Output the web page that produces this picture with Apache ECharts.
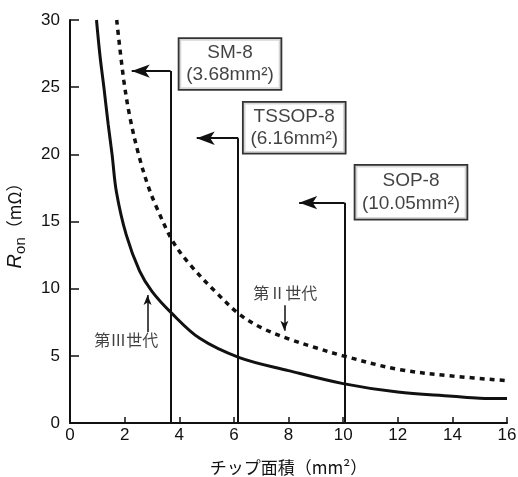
<!DOCTYPE html>
<html>
<head>
<meta charset="utf-8">
<script src="https://cdn.jsdelivr.net/npm/echarts@6/dist/echarts.min.js"></script>
<style>
html, body { margin: 0; padding: 0; background: #fff; }
#chart { width: 518px; height: 477px; }
</style>
</head>
<body>
<div id="chart"></div>
<script>
// 第Ⅲ世代 (実線)
var gen3Area = [0.97, 1.1, 1.24, 1.4, 1.54, 1.7, 2.06, 2.55, 3.0, 3.71, 4.75, 6.2, 8.0, 10.0, 12.0, 14.0, 15.0, 16.0];
var gen3Ron = [30, 27.3, 25, 22.2, 20, 17.2, 14.0, 11.3, 9.8, 8.2, 6.3, 4.87, 3.9, 2.93, 2.3, 2.0, 1.85, 1.82];

// 第Ⅱ世代 (点線)
var gen2Area = [1.71, 1.97, 2.2, 2.51, 2.85, 3.16, 3.77, 4.39, 5.36, 6.2, 7.0, 8.0, 9.0, 10.0, 12.0, 14.0, 16.0];
var gen2Ron = [30, 25.5, 22.7, 20, 17.7, 16.1, 13.5, 11.8, 9.7, 8.1, 7.1, 6.27, 5.6, 5.0, 4.0, 3.5, 3.15];

// パッケージ
var pkgNames = ['SM-8', 'TSSOP-8', 'SOP-8'];
var pkgArea = [3.68, 6.16, 10.05];
var pkgAreaText = ['(3.68mm²)', '(6.16mm²)', '(10.05mm²)'];
var pkgTop = [26.2, 21.2, 16.4];
var pkgArrowTo = [2.26, 4.64, 8.39];

var xTicks = [0, 2, 4, 6, 8, 10, 12, 14, 16];
var yTicks = [0, 5, 10, 15, 20, 25, 30];

var chart = echarts.init(document.getElementById('chart'));

function pairs(xs, ys) {
  return xs.map(function (x, i) { return [x, ys[i]]; });
}

var ink = '#111';
var numFont = 'Liberation Sans, Arial, sans-serif';
var jpFont = 'Noto Sans CJK JP, sans-serif';

// 矢印付きの線 (パッケージ)
var pkgLines = [];
pkgArea.forEach(function (a, i) {
  pkgLines.push([{ coord: [a, 0], symbol: 'none' }, { coord: [a, pkgTop[i]], symbol: 'none' }]);
  pkgLines.push([{ coord: [a, pkgTop[i]], symbol: 'none' }, { coord: [pkgArrowTo[i], pkgTop[i]], symbol: 'arrow', symbolSize: [10, 18] }]);
});

// ラベル枠の位置 (角からのずれ)
var boxOffset = [[59.5, -7], [56, -10.5], [66.5, -10.5]];
var boxWidth = [101, 101, 111];

var option = {
  animation: false,
  backgroundColor: '#fff',
  grid: { left: 70, right: 11, top: 20, bottom: 54, outerBoundsMode: 'none', containLabel: false },
  xAxis: {
    type: 'value',
    min: xTicks[0],
    max: xTicks[xTicks.length - 1],
    interval: xTicks[1] - xTicks[0],
    name: 'チップ面積（mm²）',
    nameLocation: 'middle',
    nameGap: 36,
    nameTextStyle: { fontFamily: jpFont, fontSize: 17, color: ink },
    axisLine: { lineStyle: { color: ink, width: 2 } },
    axisTick: { inside: true, length: 6, lineStyle: { color: ink, width: 1.5 } },
    axisLabel: { margin: 4, fontFamily: numFont, fontSize: 17, color: ink },
    splitLine: { show: false }
  },
  yAxis: {
    type: 'value',
    min: yTicks[0],
    max: yTicks[yTicks.length - 1],
    interval: yTicks[1] - yTicks[0],
    name: '{r|R}{s|on}{t|（mΩ）}',
    nameLocation: 'middle',
    nameRotate: 90,
    nameGap: 42,
    nameTextStyle: {
      color: ink,
      rich: {
        r: { fontFamily: numFont, fontStyle: 'italic', fontSize: 20, lineHeight: 26, color: ink },
        s: { fontFamily: numFont, fontSize: 15, lineHeight: 17, verticalAlign: 'bottom', color: ink },
        t: { fontFamily: jpFont, fontSize: 17, lineHeight: 26, color: ink }
      }
    },
    axisLine: { lineStyle: { color: ink, width: 2 } },
    axisTick: { inside: true, length: 9, lineStyle: { color: ink, width: 1.5 } },
    axisLabel: { margin: 10, fontFamily: numFont, fontSize: 17, color: ink },
    splitLine: { show: false }
  },
  series: [
    {
      name: '第Ⅲ世代',
      type: 'line',
      data: pairs(gen3Area, gen3Ron),
      smooth: 0.35,
      symbol: 'none',
      lineStyle: { color: ink, width: 3 }
    },
    {
      name: '第Ⅱ世代',
      type: 'line',
      data: pairs(gen2Area, gen2Ron),
      smooth: 0.35,
      symbol: 'none',
      lineStyle: { color: ink, width: 3.5, type: [5, 5] }
    },
    {
      name: 'パッケージ',
      type: 'scatter',
      symbolSize: 0,
      silent: true,
      z: 5,
      data: pkgArea.map(function (a, i) {
        return {
          value: [a, pkgTop[i]],
          label: {
            offset: boxOffset[i],
            width: boxWidth[i],
            lineHeight: i === 2 ? 23 : 22,
            padding: i === 2 ? [3.5, 0] : [3, 0]
          }
        };
      }),
      label: {
        show: true,
        position: 'inside',
        formatter: function (p) {
          return pkgNames[p.dataIndex] + '\n' + pkgAreaText[p.dataIndex];
        },
        align: 'center',
        fontFamily: numFont,
        fontSize: 19,
        color: ink,
        backgroundColor: '#fff',
        borderColor: '#000',
        borderWidth: 1.8
      },
      markLine: {
        silent: true,
        animation: false,
        label: { show: false },
        lineStyle: { color: ink, width: 2, type: 'solid' },
        data: pkgLines
      }
    },
    {
      name: '世代',
      type: 'scatter',
      symbolSize: 0,
      silent: true,
      data: [
        { value: [2.06, 6.16], name: '第Ⅲ世代' },
        { value: [7.88, 9.67], name: '第Ⅱ世代' }
      ],
      label: {
        show: true,
        position: 'inside',
        formatter: '{b}',
        fontFamily: jpFont,
        fontSize: 16,
        color: ink
      },
      markLine: {
        silent: true,
        animation: false,
        label: { show: false },
        lineStyle: { color: ink, width: 1.5, type: 'solid' },
        data: [
          [{ coord: [2.84, 6.78], symbol: 'none' }, { coord: [2.84, 9.52], symbol: 'arrow', symbolSize: [6, 10] }],
          [{ coord: [7.85, 8.77], symbol: 'none' }, { coord: [7.85, 6.86], symbol: 'arrow', symbolSize: [6, 10] }]
        ]
      }
    }
  ]
};

chart.setOption(option);
</script>
</body>
</html>
